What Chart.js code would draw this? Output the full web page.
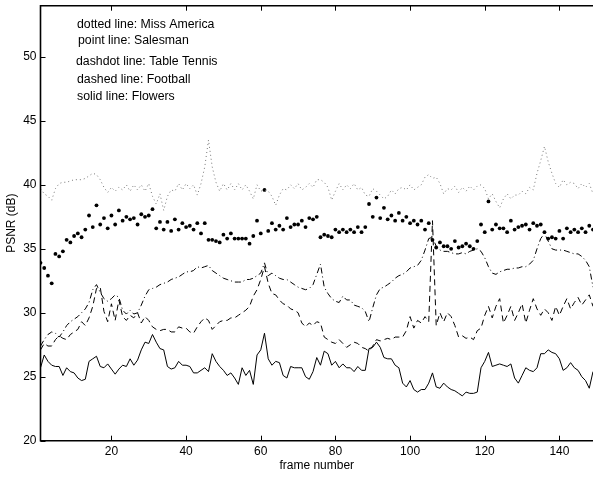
<!DOCTYPE html>
<html>
<head>
<meta charset="utf-8">
<title>PSNR per frame</title>
<script src="https://cdn.jsdelivr.net/npm/chart.js@4.4.1/dist/chart.umd.min.js"></script>
<style>
  html, body { margin: 0; padding: 0; background: #fff; }
  #wrap { width: 593px; height: 479px; }
</style>
</head>
<body>
<div id="wrap"><canvas id="psnrChart" width="593" height="479"></canvas></div>
<script>
// frame numbers 1..149 (x categories)
const frames = Array.from({ length: 149 }, (_, i) => i + 1);

// PSNR (dB)
const missAmerica = [
  39.7, 39.3, 39.1, 38.8, 39.7, 40.1, 40.2, 40.2, 40.3, 40.4,
  40.4, 40.4, 40.5, 40.7, 40.9, 40.8, 40.4, 39.8, 39.4, 39.8,
  39.5, 39.8, 39.6, 40.0, 39.5, 40.0, 39.6, 40.0, 39.5, 40.1,
  39.1, 38.5, 39.3, 38.0, 39.1, 39.6, 39.5, 40.1, 39.6, 40.1,
  39.7, 40.0, 39.2, 40.1, 41.4, 43.5, 41.4, 40.2, 39.5, 40.1,
  39.6, 40.1, 39.6, 40.1, 39.6, 40.0, 39.5, 38.9, 40.0, 39.5,
  39.6, 39.5, 39.1, 38.4, 39.2, 39.7, 39.6, 40.0, 39.7, 40.1,
  39.6, 39.8, 40.1, 39.8, 40.4, 40.4, 40.2, 39.8, 38.8, 39.5,
  40.1, 39.6, 40.0, 39.7, 40.1, 39.6, 39.8, 39.2, 39.1, 39.7,
  39.5, 39.2, 38.9, 39.1, 39.6, 39.3, 39.7, 39.8, 39.6, 40.0,
  39.6, 39.8, 40.0, 40.6, 40.8, 40.5, 40.6, 40.1, 39.3, 39.7,
  39.6, 39.9, 39.4, 39.8, 39.5, 39.9, 39.6, 39.9, 40.0, 39.7,
  38.9, 39.3, 38.7, 38.2, 38.9, 39.3, 38.9, 39.2, 39.2, 39.5,
  39.3, 39.8, 39.6, 40.9, 41.9, 43.0, 41.8, 40.9, 40.1, 39.8,
  40.4, 40.0, 40.2, 40.1, 39.7, 40.1, 39.8, 40.1, 39.3
];

const salesman = [
  33.9, 33.5, 32.9, 32.3, 34.6, 34.4, 34.8, 35.7, 35.5, 36.0,
  36.2, 35.9, 36.5, 37.6, 36.7, 38.4, 36.9, 37.4, 36.6, 37.6,
  36.9, 38.0, 37.2, 37.5, 37.3, 37.4, 36.9, 37.7, 37.5, 37.6,
  38.1, 36.6, 37.1, 36.5, 37.1, 36.4, 37.3, 36.5, 37.0, 36.7,
  36.8, 36.5, 37.0, 36.2, 37.0, 35.7, 35.7, 35.6, 35.5, 36.1,
  35.8, 36.2, 35.8, 35.8, 35.8, 35.8, 35.4, 36.0, 37.2, 36.2,
  39.6, 36.4, 37.0, 36.5, 36.8, 36.5, 37.4, 36.7, 36.9, 36.9,
  37.2, 36.7, 37.4, 37.3, 37.5, 35.9, 36.1, 36.0, 35.9, 36.5,
  36.3, 36.5, 36.3, 36.5, 36.3, 36.7, 36.3, 36.7, 38.5, 37.5,
  39.0, 37.4, 38.2, 37.3, 37.6, 37.2, 37.8, 37.2, 37.5, 37.0,
  37.2, 36.9, 37.2, 36.5, 37.0, 35.7, 35.1, 35.5, 35.2, 35.2,
  35.0, 35.6, 35.1, 35.2, 35.4, 35.2, 35.0, 35.6, 36.9, 36.3,
  38.7, 36.5, 36.9, 36.6, 36.6, 36.3, 37.2, 36.5, 36.7, 36.8,
  36.9, 36.5, 37.0, 36.8, 36.9, 36.3, 35.8, 35.9, 35.8, 36.4,
  35.8, 36.6, 36.3, 36.5, 36.3, 36.6, 36.3, 36.8, 36.5
];

const tableTennis = [
  27.4, 27.9, 28.3, 28.5, 28.4, 28.1, 28.5, 29.0, 29.3, 29.5,
  29.7, 30.0, 30.3, 30.8, 31.8, 32.2, 31.6, 31.1, 30.9, 31.1,
  31.4, 31.2, 30.2, 29.9, 30.2, 29.9, 30.0, 30.6, 31.3, 31.8,
  31.9, 32.0, 32.2, 32.3, 32.4, 32.6, 32.7, 32.8, 33.0, 33.2,
  33.2, 33.3, 33.6, 33.5, 33.6, 33.7, 33.3, 33.1, 32.9, 32.7,
  32.6, 32.5, 32.4, 32.4, 32.4, 32.6, 32.6, 32.7, 32.9, 33.1,
  33.9, 32.9, 33.1, 32.9, 32.7, 32.6, 32.6, 32.4, 32.2, 32.0,
  31.9, 31.8, 31.9, 32.2, 33.0, 33.8, 32.0, 31.5, 31.1, 30.9,
  30.8, 31.3, 31.0, 31.0, 30.6, 30.5, 30.4, 30.1, 29.3, 30.4,
  31.4, 31.9, 32.0, 32.2, 32.4, 32.7, 32.9, 33.0, 33.2, 33.5,
  33.6, 33.7, 34.1, 34.9, 35.8, 35.9, 35.2, 34.9, 34.8, 34.8,
  34.7, 34.6, 34.6, 34.7, 34.6, 34.8, 34.9, 35.0, 34.8, 34.3,
  33.6, 33.1, 33.0, 33.2, 33.3, 33.4, 33.4, 33.5, 33.5, 33.6,
  33.6, 33.8, 34.1, 35.0, 35.8, 36.2, 35.6, 35.0, 34.9, 34.9,
  34.9, 34.8, 34.7, 34.6, 34.6, 34.4, 34.1, 33.6, 32.0
];

const football = [
  27.1, 27.6, 27.4, 27.4, 27.9, 28.2, 28.0, 27.9, 28.3, 28.5,
  28.7, 29.3, 29.0, 29.6, 30.5, 31.9, 32.0, 30.1, 29.3, 30.7,
  29.4, 31.0, 29.7, 29.4, 29.8, 29.6, 30.0, 29.2, 29.7, 29.4,
  28.9, 28.7, 28.6, 28.7, 28.7, 28.5, 28.5, 28.9, 28.8, 28.8,
  28.5, 28.4, 28.9, 29.3, 29.6, 29.4, 28.7, 29.0, 29.3, 29.4,
  29.4, 29.6, 29.6, 29.8, 30.0, 30.2, 30.5, 31.3, 31.8, 32.6,
  33.6, 32.3, 31.5, 31.4, 31.0, 30.7, 30.6, 30.3, 30.2, 30.0,
  29.2, 28.9, 29.2, 29.0, 29.3, 29.2, 28.1, 27.9, 27.7, 27.6,
  27.9, 27.6, 27.3, 27.5, 27.7, 27.6, 27.3, 27.2, 27.0, 27.4,
  27.9, 27.8, 27.9, 28.0, 27.9, 28.1, 28.1, 28.1, 28.6, 29.7,
  28.8, 29.4, 29.2, 29.7, 29.3, 37.2, 29.0, 30.0, 29.3, 30.0,
  29.7, 29.0, 28.1, 28.2, 28.0, 28.1, 27.9, 28.6, 28.8, 29.8,
  30.5, 29.6, 30.5, 31.1, 29.2, 29.8, 30.5, 29.4, 30.0, 30.7,
  29.2, 30.2, 31.1, 30.3, 29.8, 30.3, 30.0, 29.4, 30.5, 29.8,
  30.5, 31.1, 30.3, 30.8, 31.2, 30.6, 31.0, 31.4, 30.5
];

const flowers = [
  25.7, 26.7, 26.2, 25.9, 25.8, 25.8, 25.1, 25.7, 25.4, 25.3,
  24.9, 24.7, 24.8, 26.2, 26.4, 26.6, 25.8, 25.7, 26.0, 25.6,
  25.2, 25.6, 25.9, 25.8, 26.4, 25.9, 26.3, 27.1, 27.7, 27.6,
  28.3, 27.7, 27.2, 27.1, 25.8, 25.6, 25.7, 26.2, 25.9, 25.9,
  25.8, 25.3, 25.3, 25.5, 25.7, 25.4, 26.8, 26.2, 25.8, 25.5,
  25.1, 25.3, 24.9, 24.4, 25.7, 25.1, 25.5, 24.4, 26.7, 27.1,
  28.4, 26.4, 25.9, 26.2, 26.1, 25.1, 24.9, 25.8, 25.7, 25.7,
  25.7, 25.0, 24.8, 25.4, 26.5, 25.9, 27.0, 26.8, 25.9, 26.2,
  25.7, 26.0, 25.7, 25.7, 25.4, 25.8, 25.5, 25.5, 27.2, 27.3,
  27.7, 27.3, 26.5, 26.4, 26.4, 25.9, 25.7, 24.5, 24.2, 24.7,
  24.0, 23.8, 24.0, 24.0, 24.5, 25.3, 24.2, 24.1, 24.5, 24.2,
  24.0, 23.9, 23.7, 23.5, 23.8, 23.7, 23.7, 23.8, 25.7, 26.2,
  26.9, 25.8, 25.9, 26.0, 25.9, 25.8, 26.0, 24.9, 24.5, 25.1,
  25.7, 25.5, 25.4, 25.7, 26.8, 26.8, 27.1, 26.9, 26.8, 26.4,
  25.5, 25.7, 26.1, 25.7, 25.5, 25.0, 24.7, 24.1, 25.4
];

const xTicks = [20, 40, 60, 80, 100, 120, 140];
const yTicks = [20, 25, 30, 35, 40, 45, 50];
const notes = [
  'dotted line: Miss America',
  'point line: Salesman',
  'dashdot line: Table Tennis',
  'dashed line: Football',
  'solid line: Flowers'
];

const FONT = "'Liberation Sans', Arial, Helvetica, sans-serif";

function pts(values) {
  return values.map((v, i) => ({ x: frames[i], y: v }));
}

// axes lines with inward ticks, like a MATLAB axes (right side is cut off in the picture)
const boxPlugin = {
  id: 'box',
  afterDraw(chart) {
    const { ctx, chartArea: a, scales: { x, y } } = chart;
    ctx.save();
    ctx.strokeStyle = '#000';
    ctx.lineWidth = 1;
    ctx.beginPath();
    xTicks.forEach(v => {
      const px = Math.round(x.getPixelForValue(v)) + 0.5;
      ctx.moveTo(px, a.bottom); ctx.lineTo(px, a.bottom - 5);
      ctx.moveTo(px, a.top); ctx.lineTo(px, a.top + 5);
    });
    yTicks.forEach(v => {
      const py = Math.round(y.getPixelForValue(v)) + 0.5;
      ctx.moveTo(a.left, py); ctx.lineTo(a.left + 5, py);
    });
    ctx.stroke();
    ctx.lineWidth = 1.6;
    ctx.beginPath();
    ctx.moveTo(a.right + 2, a.top);
    ctx.lineTo(a.left, a.top);
    ctx.lineTo(a.left, a.bottom);
    ctx.lineTo(a.right + 2, a.bottom);
    ctx.stroke();

    // text notes in the upper left
    ctx.fillStyle = '#000';
    ctx.font = '12.3px ' + FONT;
    ctx.textBaseline = 'middle';
    const spots = [[77, 25], [78, 41], [76, 62], [77, 80], [77, 97]];
    notes.forEach((t, i) => ctx.fillText(t, spots[i][0], spots[i][1]));
    ctx.restore();
  }
};

const lineBase = { pointRadius: 0, borderWidth: 1, tension: 0, fill: false, borderColor: '#000' };

new Chart(document.getElementById('psnrChart').getContext('2d'), {
  type: 'line',
  data: {
    datasets: [
      { ...lineBase, label: 'Miss America', data: pts(missAmerica), borderColor: '#777', borderDash: [1, 3] },
      { label: 'Salesman', data: pts(salesman), showLine: false, pointRadius: 1.9, pointBorderWidth: 0,
        borderWidth: 0, pointBackgroundColor: '#000', borderColor: '#000' },
      { ...lineBase, label: 'Table Tennis', data: pts(tableTennis), borderDash: [6, 3, 1, 3] },
      { ...lineBase, label: 'Football', data: pts(football), borderDash: [6, 4] },
      { ...lineBase, label: 'Flowers', data: pts(flowers) }
    ]
  },
  options: {
    responsive: false,
    animation: false,
    layout: { autoPadding: false, padding: { top: 5.7, right: 0, left: 0, bottom: 0 } },
    plugins: { legend: { display: false }, tooltip: { enabled: false } },
    scales: {
      x: {
        type: 'linear',
        min: 1,
        max: 149,
        afterBuildTicks: s => { s.ticks = xTicks.map(v => ({ value: v })); },
        afterFit: s => { s.height = 38.3; s.paddingLeft = 0; s.paddingRight = 0; },
        grid: { display: false, drawTicks: false },
        border: { display: false },
        ticks: { color: '#000', padding: 4, maxRotation: 0, font: { family: FONT, size: 12 } },
        title: { display: true, text: 'frame number', color: '#000',
                 padding: { top: 0, bottom: 5.8 }, font: { family: FONT, size: 12 } }
      },
      y: {
        min: 20,
        max: 54,
        afterBuildTicks: s => { s.ticks = yTicks.map(v => ({ value: v })); },
        afterFit: s => { s.width = 40.5; s.paddingTop = 0; s.paddingBottom = 0; },
        grid: { display: false, drawTicks: false },
        border: { display: false },
        ticks: { color: '#000', padding: 4, font: { family: FONT, size: 12 } },
        title: { display: true, text: 'PSNR (dB)', color: '#000',
                 padding: { top: 4.8, bottom: 0 }, font: { family: FONT, size: 12 } }
      }
    }
  },
  plugins: [boxPlugin]
});
</script>
</body>
</html>
